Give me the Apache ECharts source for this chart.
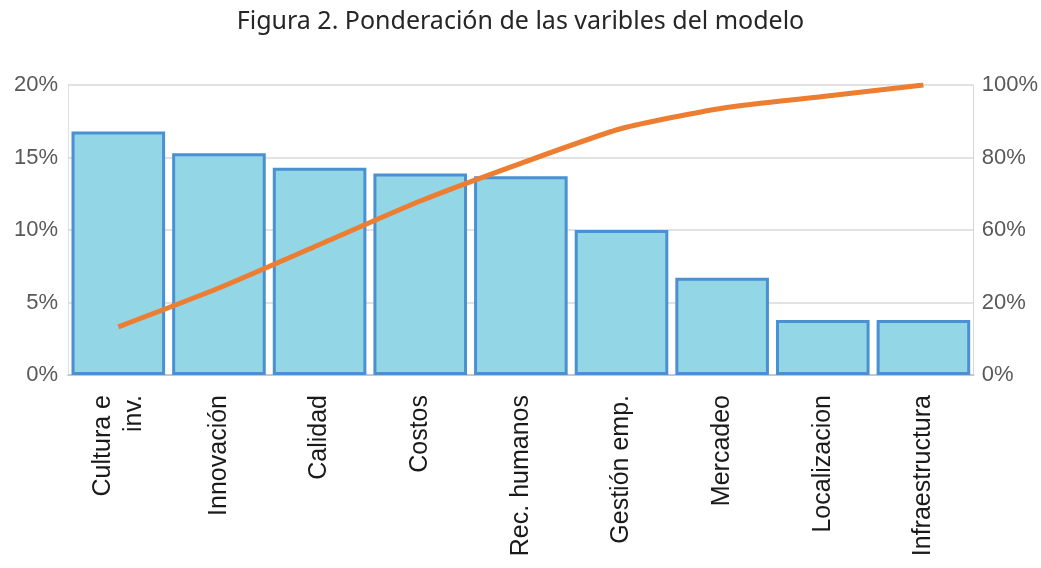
<!DOCTYPE html>
<html>
<head>
<meta charset="utf-8">
<script src="https://cdn.jsdelivr.net/npm/echarts@6/dist/echarts.min.js"></script>
<style>
  html, body { margin: 0; padding: 0; background: #fff; }
  #chart { width: 1041px; height: 568px; }
</style>
</head>
<body>
<div id="chart"></div>
<script>
const categories = ['Cultura e\ninv.', 'Innovación', 'Calidad', 'Costos', 'Rec. humanos',
  'Gestión emp.', 'Mercadeo', 'Localizacion', 'Infraestructura']
// peso de cada variable (%)
const weights = [16.8, 15.3, 14.3, 13.9, 13.7, 10.0, 6.7, 3.8, 3.8]
// acumulado (%)
const cumulative = [16.6, 30, 45, 60, 73, 85, 92, 96, 100]
const rightTicks = ['0%', '20%', '60%', '80%', '100%']

const myChart = echarts.init(document.getElementById('chart'))
const option = {
  animation: false,
  textStyle: { fontFamily: 'Liberation Sans, Arial, sans-serif' },
  title: {
    text: 'Figura 2. Ponderación de las varibles del modelo',
    left: 'center',
    top: 4,
    textStyle: { fontSize: 25, fontWeight: 'normal', color: '#262626', fontFamily: 'Noto Sans' }
  },
  grid: { left: 68, right: 66, top: 85, bottom: 193 },
  xAxis: {
    type: 'category',
    data: categories,
    axisTick: { show: false },
    axisLine: { lineStyle: { color: '#bfbfbf', width: 1.5 } },
    axisLabel: {
      interval: 0,
      rotate: 90,
      margin: 20,
      fontSize: 25,
      lineHeight: 31,
      color: '#1a1a1a'
    }
  },
  yAxis: [
    {
      type: 'value',
      min: 0,
      max: 20,
      interval: 5,
      axisLine: { show: true, lineStyle: { color: '#d9d9d9', type: 'dotted' } },
      axisTick: { show: false },
      splitLine: { show: false },
      axisLabel: { formatter: '{value}%', fontSize: 22, color: '#595959', margin: 10 }
    },
    {
      type: 'value',
      min: 0,
      max: 100,
      interval: 25,
      position: 'right',
      axisLine: { show: true, lineStyle: { color: '#d0d0d0', type: 'dotted' } },
      axisTick: { show: false },
      splitLine: { show: true, lineStyle: { color: '#d9d9d9', width: 1.5 } },
      axisLabel: {
        formatter: function (v) { return rightTicks[Math.round(v / 25)] },
        fontSize: 22,
        color: '#595959',
        margin: 8
      }
    }
  ],
  series: [
    {
      type: 'bar',
      data: weights,
      barCategoryGap: '7%',
      itemStyle: { color: '#93d6e6', borderColor: '#4a90d2', borderWidth: 3 }
    },
    {
      type: 'line',
      yAxisIndex: 1,
      data: cumulative,
      symbol: 'none',
      smooth: 0.2,
      lineStyle: { color: '#ed7d31', width: 5 }
    }
  ]
}
myChart.setOption(option)
</script>
</body>
</html>
